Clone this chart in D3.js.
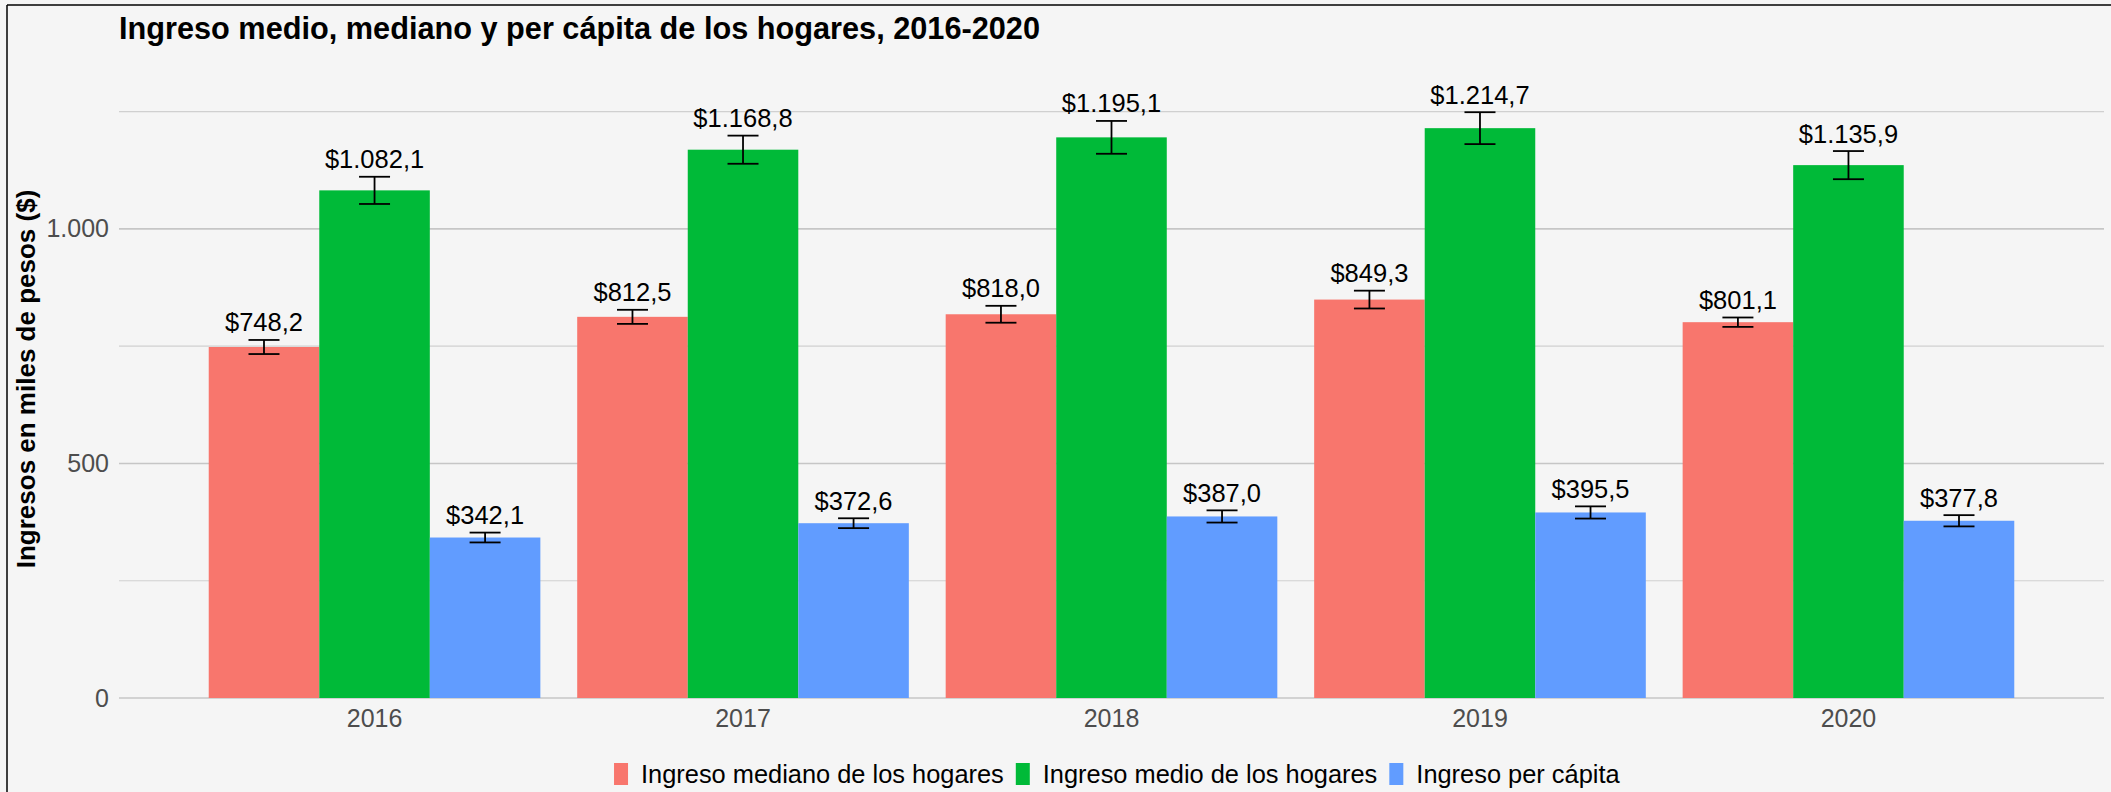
<!DOCTYPE html>
<html>
<head>
<meta charset="utf-8">
<script src="https://cdn.jsdelivr.net/npm/d3@7/dist/d3.min.js"></script>
<style>
  html, body { margin: 0; padding: 0; background: #f5f5f5; }
  svg { display: block; font-family: "Liberation Sans", Arial, sans-serif; }
</style>
</head>
<body>
<svg id="chart" width="2111" height="792"></svg>
<script>
// --- data (miles de pesos) ---
const years = ['2016', '2017', '2018', '2019', '2020'];
const seriesNames = ['Ingreso mediano de los hogares', 'Ingreso medio de los hogares', 'Ingreso per cápita'];
const seriesColors = ['#F8766D', '#00BA38', '#619CFF'];

const medianIncome = [748.2, 812.5, 818.0, 849.3, 801.1];
const meanIncome = [1082.1, 1168.8, 1195.1, 1214.7, 1135.9];
const perCapitaIncome = [342.1, 372.6, 387.0, 395.5, 377.8];

// half-width of the error bars
const medianError = [15, 15, 18, 19, 10];
const meanError = [29, 30, 35, 34, 30];
const perCapitaError = [10.5, 10.5, 13, 13, 12];

const yTicks = [0, 500, 1000];
const yMinorTicks = [250, 750, 1250];

const values = [medianIncome, meanIncome, perCapitaIncome];
const errors = [medianError, meanError, perCapitaError];

// es-AR style number formatting
const locale = d3.formatLocale({ decimal: ',', thousands: '.', grouping: [3], currency: ['$', ''] });
const fmtLabel = locale.format('$,.1f');
const fmtTick = locale.format(',');

const svg = d3.select('#chart');
const FONT = '"Liberation Sans", Arial, sans-serif';

// Frame (left + top edge only, as in the crop)
svg.append('line').attr('x1', 7).attr('x2', 7).attr('y1', 5).attr('y2', 792)
  .attr('stroke', '#000').attr('stroke-width', 1.5);
svg.append('line').attr('x1', 7).attr('x2', 2111).attr('y1', 5).attr('y2', 5)
  .attr('stroke', '#000').attr('stroke-width', 1.5);

// Scales
const x = d3.scaleBand().domain(years).range([119, 2104]).paddingInner(0.1).paddingOuter(0.2435);
const xInner = d3.scaleBand().domain(seriesNames).range([0, x.bandwidth()]);
const y = d3.scaleLinear().domain([0, 1250]).range([698, 111.6]);

// Grid
const grid = svg.append('g').attr('class', 'grid');
grid.selectAll('line.minor').data(yMinorTicks).join('line')
  .attr('class', 'minor')
  .attr('x1', 119).attr('x2', 2104)
  .attr('y1', d => y(d)).attr('y2', d => y(d))
  .attr('stroke', '#d0d0d0').attr('stroke-width', 1.1);
grid.selectAll('line.major').data(yTicks).join('line')
  .attr('class', 'major')
  .attr('x1', 119).attr('x2', 2104)
  .attr('y1', d => y(d)).attr('y2', d => y(d))
  .attr('stroke', '#c6c6c6').attr('stroke-width', 1.6);

// Y axis labels
const yAxis = svg.append('g').attr('transform', 'translate(109,0)')
  .call(d3.axisLeft(y).tickValues(yTicks).tickFormat(fmtTick).tickSize(0).tickPadding(0));
yAxis.select('.domain').remove();
yAxis.selectAll('text').attr('font-family', FONT).attr('font-size', 25).attr('fill', '#4d4d4d');

// X axis labels
const xAxis = svg.append('g').attr('transform', 'translate(0,698)')
  .call(d3.axisBottom(x).tickSize(0).tickPadding(0));
xAxis.select('.domain').remove();
xAxis.selectAll('text').attr('font-family', FONT).attr('font-size', 25).attr('fill', '#4d4d4d')
  .attr('dy', null).attr('y', 29);

// Flatten to bar records
const bars = [];
years.forEach((yr, i) => {
  seriesNames.forEach((s, j) => {
    bars.push({ year: yr, series: s, color: seriesColors[j], value: values[j][i], err: errors[j][i] });
  });
});

const groups = svg.append('g').attr('class', 'bars');
const barSel = groups.selectAll('g.bar').data(bars).join('g')
  .attr('class', 'bar')
  .attr('transform', d => `translate(${x(d.year) + xInner(d.series)},0)`);

barSel.append('rect')
  .attr('x', 0)
  .attr('width', xInner.bandwidth())
  .attr('y', d => y(d.value))
  .attr('height', d => y(0) - y(d.value))
  .attr('fill', d => d.color);

// Error bars
const WHISKER = 31;
const cx = xInner.bandwidth() / 2;
barSel.append('line')
  .attr('x1', cx).attr('x2', cx)
  .attr('y1', d => y(d.value + d.err)).attr('y2', d => y(d.value - d.err))
  .attr('stroke', '#000').attr('stroke-width', 1.8);
barSel.append('line')
  .attr('x1', cx - WHISKER / 2).attr('x2', cx + WHISKER / 2)
  .attr('y1', d => y(d.value + d.err)).attr('y2', d => y(d.value + d.err))
  .attr('stroke', '#000').attr('stroke-width', 1.8);
barSel.append('line')
  .attr('x1', cx - WHISKER / 2).attr('x2', cx + WHISKER / 2)
  .attr('y1', d => y(d.value - d.err)).attr('y2', d => y(d.value - d.err))
  .attr('stroke', '#000').attr('stroke-width', 1.8);

// Value labels
barSel.append('text')
  .attr('x', cx)
  .attr('y', d => y(d.value + d.err) - 8.5)
  .attr('text-anchor', 'middle')
  .attr('font-family', FONT)
  .attr('font-size', 25.5)
  .attr('fill', '#000')
  .text(d => fmtLabel(d.value));

// Title
svg.append('text')
  .attr('x', 119).attr('y', 39)
  .attr('font-family', FONT).attr('font-size', 30.7).attr('font-weight', 'bold')
  .attr('fill', '#000')
  .text('Ingreso medio, mediano y per cápita de los hogares, 2016-2020');

// Y axis title
svg.append('text')
  .attr('transform', 'translate(35,379) rotate(-90)')
  .attr('text-anchor', 'middle')
  .attr('font-family', FONT).attr('font-size', 26).attr('font-weight', 'bold')
  .attr('fill', '#000')
  .text('Ingresos en miles de pesos ($)');

// Legend — laid out from measured text widths, centred under the panel
const KEY_W = 14, KEY_H = 22, KEY_GAP = 13, ITEM_GAP = 12;
const legend = svg.append('g').attr('class', 'legend');
const items = legend.selectAll('g.item').data(seriesNames).join('g').attr('class', 'item');
items.append('rect')
  .attr('width', KEY_W).attr('height', KEY_H).attr('y', 763)
  .attr('fill', (d, i) => seriesColors[i]);
items.append('text')
  .attr('x', KEY_W + KEY_GAP).attr('y', 783)
  .attr('font-family', FONT).attr('font-size', 25.4).attr('fill', '#000')
  .text(d => d);

const widths = [];
items.each(function () {
  widths.push(KEY_W + KEY_GAP + d3.select(this).select('text').node().getComputedTextLength());
});
const total = d3.sum(widths) + ITEM_GAP * (widths.length - 1);
let cursor = 1116.8 - total / 2;
items.attr('transform', (d, i) => {
  const t = `translate(${cursor},0)`;
  cursor += widths[i] + ITEM_GAP;
  return t;
});
</script>
</body>
</html>
